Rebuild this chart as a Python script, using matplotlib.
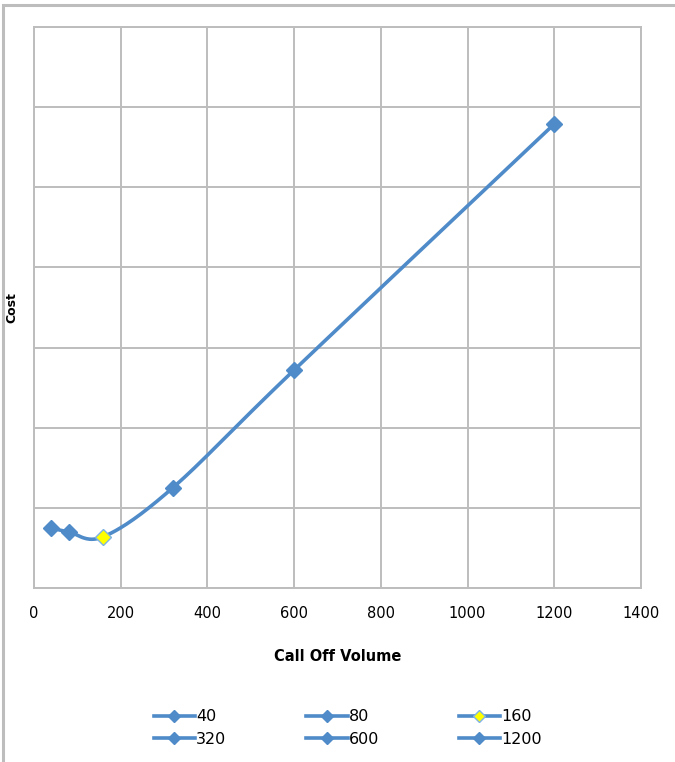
import numpy as np
import matplotlib
matplotlib.use("Agg")
import matplotlib.pyplot as plt
from matplotlib.lines import Line2D
from matplotlib.patches import Rectangle

# call off volumes and (unscaled) cost
volumes = [40, 80, 160, 320, 600, 1200]
cost = [0.75, 0.70, 0.64, 1.25, 2.72, 5.79]
labels = ["40", "80", "160", "320", "600", "1200"]
marker_fill = ["#4F8BC9", "#4F8BC9", "#FFFF00", "#4F8BC9", "#4F8BC9", "#4F8BC9"]
xticks = [0, 200, 400, 600, 800, 1000, 1200, 1400]

blue = "#4F8BC9"
W, H = 675, 762
fig = plt.figure(figsize=(W / 100, H / 100), dpi=100)
ax = fig.add_axes([34 / W, 1 - 588 / H, (641 - 34) / W, (588 - 27) / H])

xmax, ymax = 1400, 7


def excel_smooth(xs, ys, sx, sy, n=40):
    # excel-like bezier smoothing, done in screen-ish units
    px = np.array(xs) / sx
    py = np.array(ys) / sy
    out_x, out_y = [], []
    k = len(px)
    for i in range(k - 1):
        p0 = i - 1 if i > 0 else i
        p3 = i + 2 if i + 2 < k else i + 1
        c1x = px[i] + (px[i + 1] - px[p0]) / 6
        c1y = py[i] + (py[i + 1] - py[p0]) / 6
        c2x = px[i + 1] - (px[p3] - px[i]) / 6
        c2y = py[i + 1] - (py[p3] - py[i]) / 6
        t = np.linspace(0, 1, n)
        bx = (1 - t) ** 3 * px[i] + 3 * (1 - t) ** 2 * t * c1x + 3 * (1 - t) * t ** 2 * c2x + t ** 3 * px[i + 1]
        by = (1 - t) ** 3 * py[i] + 3 * (1 - t) ** 2 * t * c1y + 3 * (1 - t) * t ** 2 * c2y + t ** 3 * py[i + 1]
        out_x.extend(bx)
        out_y.extend(by)
    return np.array(out_x) * sx, np.array(out_y) * sy


sx_, sy_ = excel_smooth(volumes, cost, xmax / 607, ymax / 561)
ax.plot(sx_, sy_, color=blue, lw=2.6, solid_capstyle="round", zorder=3)
for v, c, f in zip(volumes, cost, marker_fill):
    ax.plot([v], [c], marker="D", ms=8, mfc=f, mec=blue if f != "#FFFF00" else "#7FB2E5",
            mew=1.0, ls="none", zorder=4)

ax.set_xlim(0, xmax)
ax.set_ylim(0, ymax)
ax.set_xticks(xticks)
ax.set_yticks(np.arange(0, ymax + 1))
ax.set_yticklabels([])
ax.tick_params(length=0, labelsize=10.5, pad=13)
ax.grid(True, color="#BDBDBD", lw=1.4)
for s in ax.spines.values():
    s.set_color("#BDBDBD")
    s.set_linewidth(1.4)
ax.set_axisbelow(True)
ax.set_xlabel("Call Off Volume", fontsize=10.5, fontweight="bold", labelpad=20)
ax.set_ylabel("Cost", fontsize=9, fontweight="bold")
ax.yaxis.set_label_coords(-16 / 607, 0.5)

handles = [Line2D([0], [0], color=blue, lw=2.6, marker="D", ms=6, mfc=f,
                  mec=blue if f != "#FFFF00" else "#7FB2E5") for f in marker_fill]
order = [0, 3, 1, 4, 2, 5]
fig.legend([handles[i] for i in order], [labels[i] for i in order], ncol=3,
           loc="center", bbox_to_anchor=(0.515, 1 - 728 / H), frameon=False,
           fontsize=11.5, handlelength=2.6, handletextpad=0.05, columnspacing=5.0,
           labelspacing=0.45)

# outer chart frame
fig.patches.append(Rectangle((3 / W, -0.05), 1.1, 1 - 5 / H + 0.05, transform=fig.transFigure,
                             fill=False, ec="#BDBDBD", lw=2.2))

fig.savefig("out.png", dpi=100)
